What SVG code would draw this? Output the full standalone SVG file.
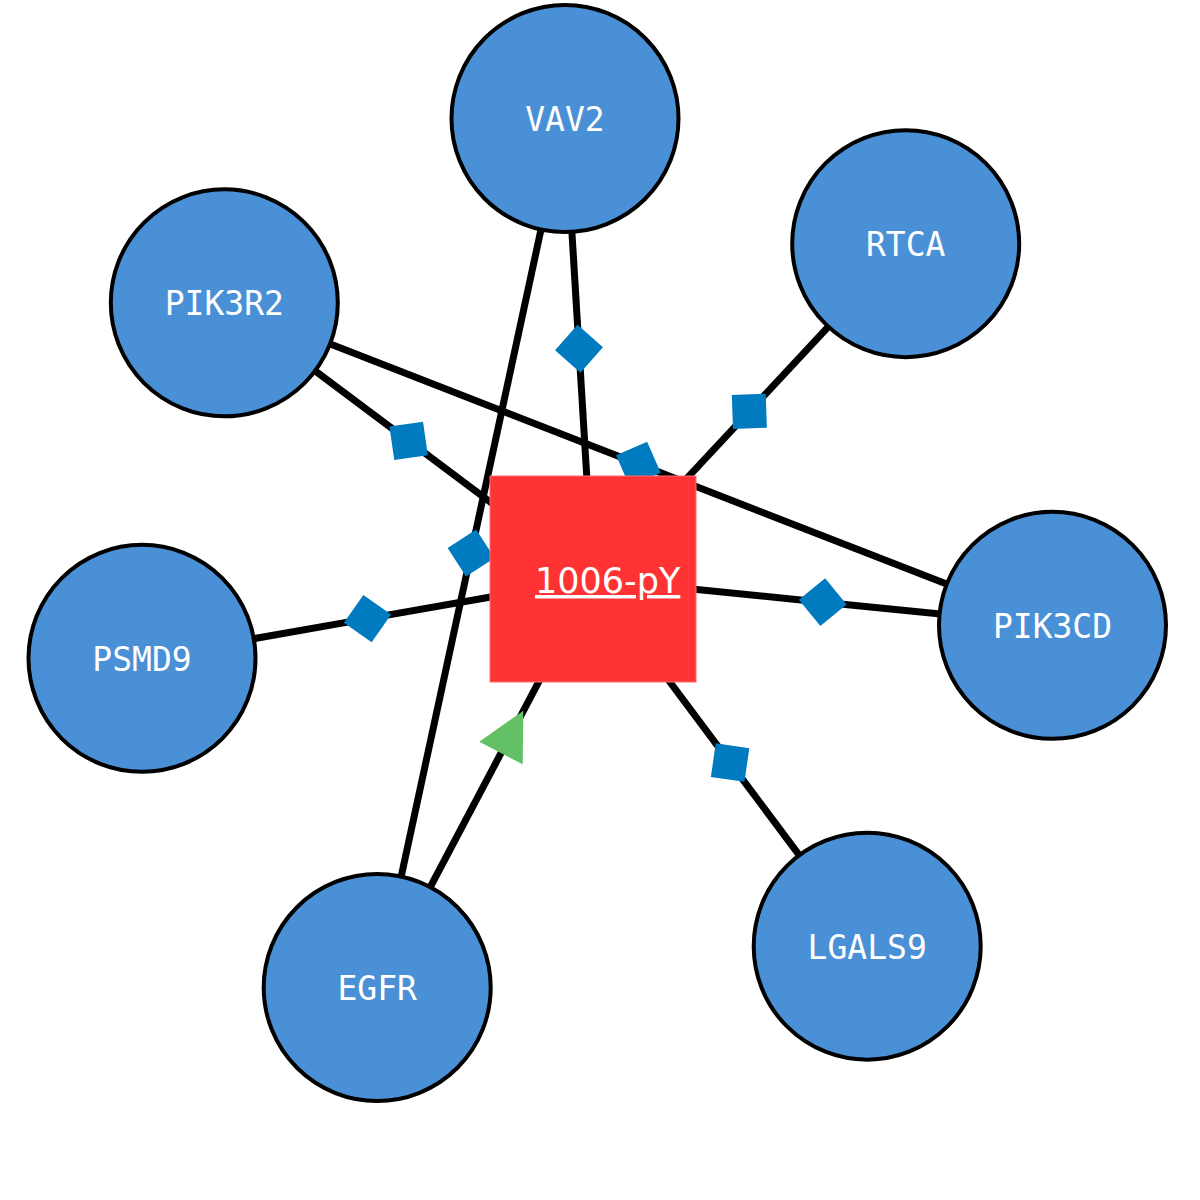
<svg xmlns="http://www.w3.org/2000/svg" width="1200" height="1200" viewBox="0 0 1200 1200">
<style>
.edge{fill:none;stroke:#000;stroke-width:7;marker-mid:url(#dia)}
.node circle{fill:#4a90d6;stroke:#000;stroke-width:4}
.node text{font-family:"DejaVu Sans Mono","Liberation Mono",monospace;font-size:33px;fill:#fff;text-anchor:middle}
.center rect{fill:#ff3333;stroke:#ff7070;stroke-width:1}
.center text{font-family:"DejaVu Sans","Liberation Sans",sans-serif;font-size:35px;fill:#fff;text-decoration:underline}
</style>
<defs>
<marker id="dia" markerUnits="userSpaceOnUse" viewBox="-25 -25 50 50" markerWidth="50" markerHeight="50" refX="0" refY="0" orient="auto">
<path d="M-24,0 L0,-24 L24,0 L0,24 Z" fill="#007bc0"/>
</marker>
</defs>
<rect width="1200" height="1200" fill="#fff"/>
<g id="connectors">
<path class="edge" d="M565,118.5 L579,348.75 L593,579"/>
<path class="edge" d="M905.7,243.7 L749.35,411.35 L593,579"/>
<path class="edge" d="M224.3,302.8 L408.65,440.9 L593,579"/>
<path class="edge" d="M224.3,302.8 L638.4,464.05 L1052.5,625.3"/>
<path class="edge" d="M565,118.5 L471.1,553 L377.2,987.5"/>
<path class="edge" d="M142,658.3 L367.5,618.65 L593,579"/>
<path class="edge" d="M1052.5,625.3 L822.75,602.15 L593,579"/>
<path class="edge" d="M867.2,946.2 L730.1,762.6 L593,579"/>
<path d="M377.2,987.5 L593,579" fill="none" stroke="#000" stroke-width="7"/>
<polygon points="479.3,741.7 523.3,710.7 522.7,764.3" fill="#62c065"/>
</g>
<g id="node-VAV2" class="node"><circle cx="565" cy="118.5" r="113.5"/><text x="565" y="131">VAV2</text></g>
<g id="node-RTCA" class="node"><circle cx="905.7" cy="243.7" r="113.5"/><text x="905.7" y="256">RTCA</text></g>
<g id="node-PIK3R2" class="node"><circle cx="224.3" cy="302.8" r="113.5"/><text x="224.3" y="315">PIK3R2</text></g>
<g id="node-PSMD9" class="node"><circle cx="142" cy="658.3" r="113.5"/><text x="142" y="670.5">PSMD9</text></g>
<g id="node-PIK3CD" class="node"><circle cx="1052.5" cy="625.3" r="113.5"/><text x="1052.5" y="637.5">PIK3CD</text></g>
<g id="node-LGALS9" class="node"><circle cx="867.2" cy="946.2" r="113.5"/><text x="867.2" y="958.5">LGALS9</text></g>
<g id="node-EGFR" class="node"><circle cx="377.2" cy="987.5" r="113.5"/><text x="377.2" y="999.5">EGFR</text></g>
<g id="node-1006-pY" class="center"><rect x="490" y="476" width="206" height="206"/><text x="535" y="593">1006-pY</text></g>
</svg>
